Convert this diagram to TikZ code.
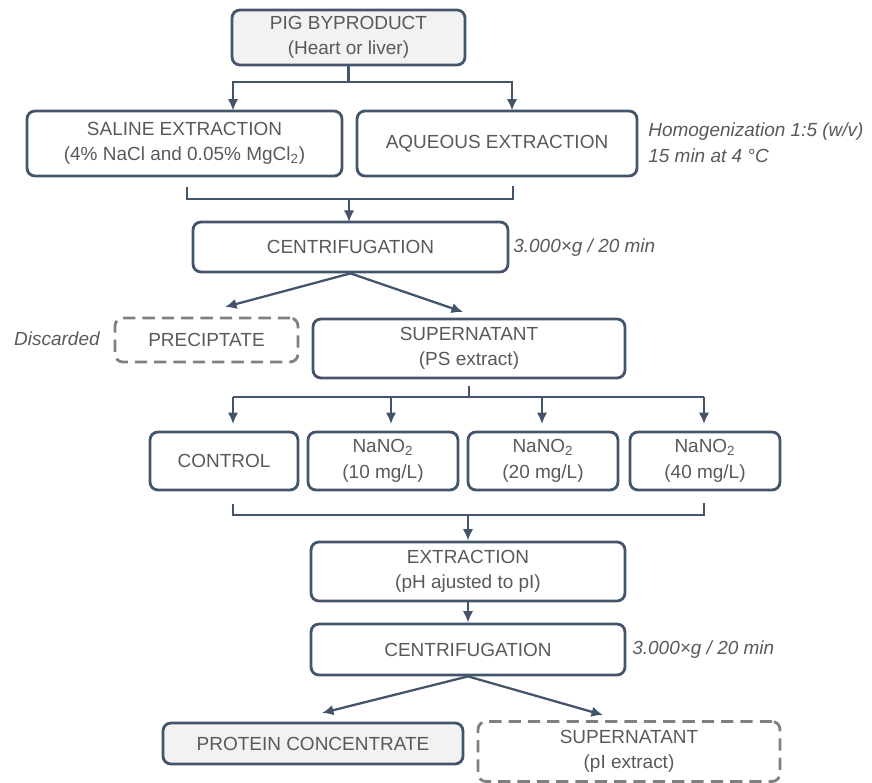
\documentclass[tikz,border=0pt]{standalone}
\usepackage{fontspec}
\setmainfont{Liberation Sans}
\usetikzlibrary{arrows.meta}
\definecolor{boxline}{HTML}{44546A}
\definecolor{txtgray}{HTML}{595959}
\definecolor{dashgray}{HTML}{808080}
\definecolor{boxfill}{HTML}{F2F2F2}
\begin{document}
\begin{tikzpicture}[x=0.02cm, y=-0.02cm, >={Latex[length=2.3mm,width=2.1mm]},
  every node/.style={font=\fontsize{10.8}{14.5}\selectfont, text=txtgray},
  stepbox/.style={draw=boxline, line width=1.6pt, rounded corners=4.5pt, align=center, inner sep=0pt},
  endbox/.style={stepbox, fill=boxfill},
  waste/.style={stepbox, draw=dashgray, dash pattern=on 7pt off 4pt},
  conn/.style={draw=boxline, line width=1.3pt},
  note/.style={font=\itshape\fontsize{10.8}{14.5}\selectfont, align=left, inner sep=0pt}]
 \useasboundingbox (0,0) rectangle (872,783);
 % raw material and the two extractions
 \node[endbox, minimum width=4.66cm, minimum height=1.1cm] (pig) at (348.5,37.5) {PIG BYPRODUCT\\(Heart or liver)};
 \node[stepbox, minimum width=6.3cm, minimum height=1.3cm] (saline) at (184.5,143.5) {SALINE EXTRACTION\\(4\% NaCl and 0.05\% MgCl\textsubscript{2})};
 \node[stepbox, minimum width=5.6cm, minimum height=1.3cm] (aqueous) at (497,143.5) {AQUEOUS EXTRACTION};
 \node[note, anchor=west] (homog) at (648,142.5) {Homogenization 1:5 (w/v)\\15 min at 4 °C};
 \coordinate (b1) at (348.5,82);
 \coordinate (sl) at (233,82);
 \coordinate (sr) at (512,82);
 \draw[conn] (pig.south) -- (b1);
 \draw[conn,->] (b1) -- (sl) -- ([yshift=-0.02cm]sl |- saline.north);
 \draw[conn,->] (b1) -- (sr) -- ([yshift=-0.02cm]sr |- aqueous.north);
 % first centrifugation
 \node[stepbox, minimum width=6.3cm, minimum height=1.0cm] (cent1) at (350.5,247) {CENTRIFUGATION};
 \node[note, anchor=west] (time1) at (513,248) {3.000×g / 20 min};
 \coordinate (bl) at (187,199);
 \coordinate (br) at (513,199);
 \draw[conn] (saline.south -| bl) ++(0,10) -- (bl) -- (br) -- ++(0,-13);
 \draw[conn,->] (bl -| 349,0) -- (349,222);
 \node[waste, minimum width=3.66cm, minimum height=0.88cm] (precip) at (206.5,340) {PRECIPTATE};
 \node[note, anchor=east] (disc) at (100,339) {Discarded};
 \node[stepbox, minimum width=6.24cm, minimum height=1.18cm] (superPS) at (469,348.5) {SUPERNATANT\\(PS extract)};
 \coordinate (p1) at (225,307);
 \coordinate (p2) at (463,312);
 \draw[conn,->] (cent1.south) -- (p1);
 \draw[conn,->] (cent1.south) -- (p2);
 % treatments
 \node[stepbox, minimum width=2.96cm, minimum height=1.16cm] (control) at (224,461) {CONTROL};
 \node[stepbox, minimum width=3.0cm, minimum height=1.16cm] (nano10) at (383,461) {NaNO\textsubscript{2}\\(10 mg/L)};
 \node[stepbox, minimum width=3.0cm, minimum height=1.16cm] (nano20) at (543,461) {NaNO\textsubscript{2}\\(20 mg/L)};
 \node[stepbox, minimum width=3.0cm, minimum height=1.16cm] (nano40) at (705,461) {NaNO\textsubscript{2}\\(40 mg/L)};
 \coordinate (j2) at (469,397);
 \draw[conn] ([yshift=-0.14cm]superPS.south) -- (j2);
 \draw[conn] (233,397) -- (704,397);
 \foreach \n/\x in {control/233, nano10/391, nano20/542, nano40/704}
  \draw[conn,->] (\x,397) -- ([yshift=0.13cm]\n.north -| \x,0);
 \coordinate (cl) at (233,515);
 \coordinate (cr) at (704,515);
 \draw[conn] (control.south -| cl) ++(0,13) -- (cl) -- (cr) -- ++(0,-12);
 % isoelectric precipitation
 \node[stepbox, minimum width=6.28cm, minimum height=1.18cm] (extract) at (468,571.5) {EXTRACTION\\(pH ajusted to pI)};
 \draw[conn,->] (cl -| extract.north) -- (extract.north);
 \node[stepbox, minimum width=6.28cm, minimum height=1.02cm] (cent2) at (468,649.5) {CENTRIFUGATION};
 \node[note, anchor=west] (time2) at (632,650) {3.000×g / 20 min};
 \draw[conn,->] (extract.south) -- (cent2.north);
 \node[endbox, minimum width=6.0cm, minimum height=0.82cm] (protein) at (313,743.5) {PROTEIN CONCENTRATE};
 \node[waste, minimum width=6.04cm, minimum height=1.2cm] (superPI) at (629,751.5) {SUPERNATANT\\(pI extract)};
 \coordinate (q1) at (322,713);
 \coordinate (q2) at (603,715);
 \draw[conn,->] (cent2.south) -- (q1);
 \draw[conn,->] (cent2.south) -- (q2);
\end{tikzpicture}
\end{document}
